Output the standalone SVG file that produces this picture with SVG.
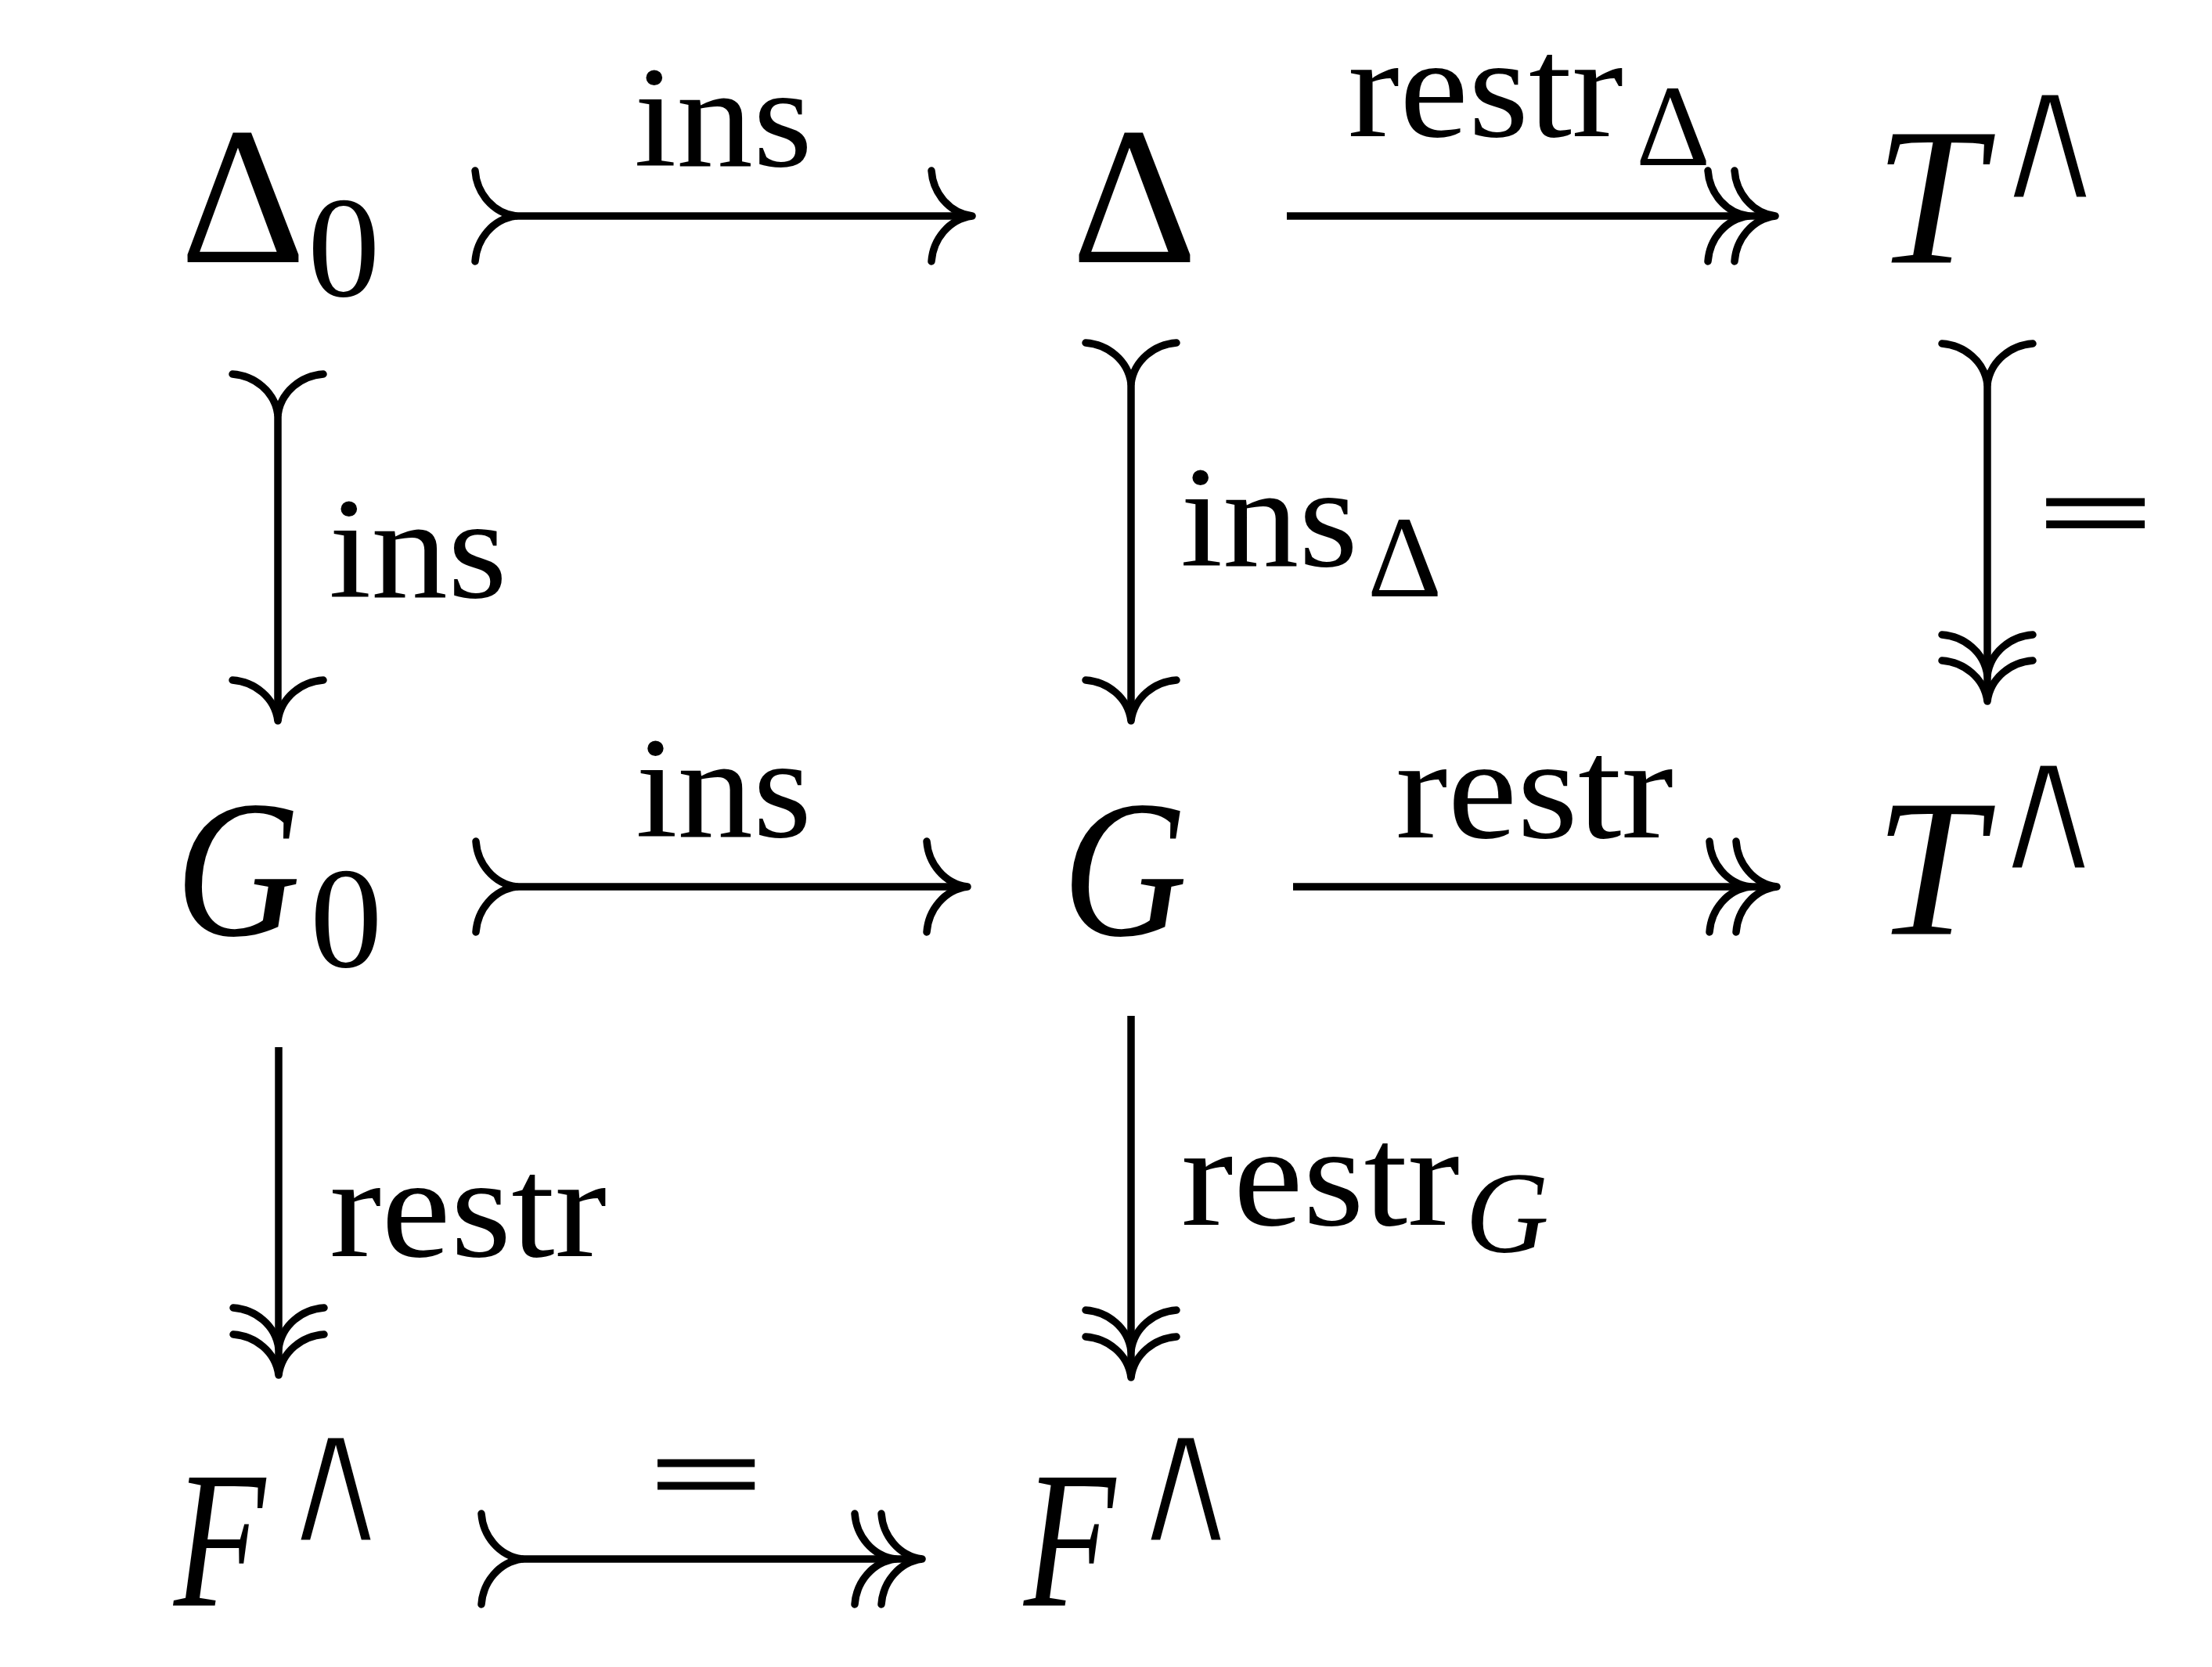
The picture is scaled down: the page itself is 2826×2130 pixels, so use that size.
<svg xmlns="http://www.w3.org/2000/svg" xmlns:xlink="http://www.w3.org/1999/xlink" width="2826" height="2130" viewBox="0 0 2826 2130">
<style>
text{font-family:"Liberation Serif","DejaVu Serif",serif;fill:#000}
.m{font-size:250px}
.it{font-style:italic}
.sub{font-size:185px}
.lb{font-size:185px}
.ls{font-size:148px}
.w{font-size:238px;font-style:normal;stroke:#fff;stroke-width:9}
.eq{font-size:142px;stroke:#000;stroke-width:3}
.ln{stroke:#000;stroke-width:9.5;fill:none}
.hd{stroke:#000;stroke-width:9.5;fill:none;stroke-linecap:round}
</style>
<defs>
<path id="hd" class="hd" d="M -52,-58 C -50,-30 -30,-4 0,0 M -52,58 C -50,30 -30,4 0,0"/>
</defs>
<rect width="2826" height="2130" fill="#fff"/>
<g id="n-delta0"><text class="m" x="230" y="335">Δ</text><text class="sub" x="393" y="378">0</text></g>
<g id="n-delta"><text class="m" x="1369" y="335">Δ</text></g>
<g id="n-t1"><text class="m it" x="2395" y="335">T</text><text class="w" x="2539" y="256" textLength="160" lengthAdjust="spacingAndGlyphs">∧</text></g>
<g id="n-g0"><text class="m it" x="224" y="1195" textLength="160" lengthAdjust="spacingAndGlyphs">G</text><text class="sub" x="396" y="1235">0</text></g>
<g id="n-g"><text class="m it" x="1357" y="1195" textLength="160" lengthAdjust="spacingAndGlyphs">G</text></g>
<g id="n-t2"><text class="m it" x="2395" y="1193">T</text><text class="w" x="2537" y="1113" textLength="160" lengthAdjust="spacingAndGlyphs">∧</text></g>
<g id="n-f1"><text class="m it" transform="translate(222,2052) scale(0.765,1)">F</text><text class="w" x="352" y="1972" textLength="154" lengthAdjust="spacingAndGlyphs">∧</text></g>
<g id="n-f2"><text class="m it" transform="translate(1308,2052) scale(0.765,1)">F</text><text class="w" x="1438" y="1972" textLength="154" lengthAdjust="spacingAndGlyphs">∧</text></g>
<g id="connectors">
<!-- Delta0 -> Delta -->
<line class="ln" x1="659" y1="276" x2="1242" y2="276"/>
<use xlink:href="#hd" transform="translate(659,276)"/>
<use xlink:href="#hd" transform="translate(1242,276)"/>
<text class="lb" x="810" y="212" textLength="228" lengthAdjust="spacingAndGlyphs">ins</text>
<!-- Delta -> T -->
<line class="ln" x1="1644" y1="276" x2="2268" y2="276"/>
<use xlink:href="#hd" transform="translate(2234,276)"/>
<use xlink:href="#hd" transform="translate(2268,276)"/>
<text class="lb" x="1722" y="174" textLength="352" lengthAdjust="spacingAndGlyphs">restr</text>
<text class="ls" x="2090" y="211">Δ</text>
<!-- G0 -> G -->
<line class="ln" x1="660" y1="1133" x2="1236" y2="1133"/>
<use xlink:href="#hd" transform="translate(660,1133)"/>
<use xlink:href="#hd" transform="translate(1236,1133)"/>
<text class="lb" x="812" y="1069" textLength="225" lengthAdjust="spacingAndGlyphs">ins</text>
<!-- G -> T -->
<line class="ln" x1="1652" y1="1133" x2="2270" y2="1133"/>
<use xlink:href="#hd" transform="translate(2236,1133)"/>
<use xlink:href="#hd" transform="translate(2270,1133)"/>
<text class="lb" x="1783" y="1070" textLength="355" lengthAdjust="spacingAndGlyphs">restr</text>
<!-- F -> F -->
<line class="ln" x1="667" y1="1992" x2="1178" y2="1992"/>
<use xlink:href="#hd" transform="translate(667,1992)"/>
<use xlink:href="#hd" transform="translate(1144,1992)"/>
<use xlink:href="#hd" transform="translate(1178,1992)"/>
<text class="eq" x="830" y="1931" textLength="144" lengthAdjust="spacingAndGlyphs">=</text>
<!-- Delta0 -> G0 -->
<line class="ln" x1="355" y1="530" x2="355" y2="921"/>
<use xlink:href="#hd" transform="translate(355,530) rotate(90)"/>
<use xlink:href="#hd" transform="translate(355,921) rotate(90)"/>
<text class="lb" x="420" y="763" textLength="228" lengthAdjust="spacingAndGlyphs">ins</text>
<!-- Delta -> G -->
<line class="ln" x1="1445" y1="490" x2="1445" y2="921"/>
<use xlink:href="#hd" transform="translate(1445,490) rotate(90)"/>
<use xlink:href="#hd" transform="translate(1445,921) rotate(90)"/>
<text class="lb" x="1508" y="723" textLength="227" lengthAdjust="spacingAndGlyphs">ins</text>
<text class="ls" x="1747" y="762">Δ</text>
<!-- T -> T -->
<line class="ln" x1="2539" y1="491" x2="2539" y2="896"/>
<use xlink:href="#hd" transform="translate(2539,491) rotate(90)"/>
<use xlink:href="#hd" transform="translate(2539,863) rotate(90)"/>
<use xlink:href="#hd" transform="translate(2539,896) rotate(90)"/>
<text class="eq" x="2604" y="703" textLength="146" lengthAdjust="spacingAndGlyphs">=</text>
<!-- G0 -> F -->
<line class="ln" x1="356" y1="1338" x2="356" y2="1757"/>
<use xlink:href="#hd" transform="translate(356,1723) rotate(90)"/>
<use xlink:href="#hd" transform="translate(356,1757) rotate(90)"/>
<text class="lb" x="421" y="1605" textLength="354" lengthAdjust="spacingAndGlyphs">restr</text>
<!-- G -> F -->
<line class="ln" x1="1445" y1="1298" x2="1445" y2="1760"/>
<use xlink:href="#hd" transform="translate(1445,1726) rotate(90)"/>
<use xlink:href="#hd" transform="translate(1445,1760) rotate(90)"/>
<text class="lb" x="1509" y="1565" textLength="356" lengthAdjust="spacingAndGlyphs">restr</text>
<text class="ls it" x="1872" y="1600">G</text>
</g>
</svg>
